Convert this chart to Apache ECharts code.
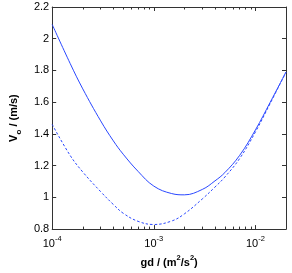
<!DOCTYPE html>
<html><head><meta charset="utf-8">
<script src="https://cdn.jsdelivr.net/npm/echarts@6/dist/echarts.min.js"></script>
<style>html,body{margin:0;padding:0;background:#fff}#c{width:292px;height:273px}</style>
</head><body><div id="c"></div>
<script>
// gd values (m^2/s^2)
const gd = [1e-4, 1.5e-4, 2e-4, 3e-4, 4e-4, 5e-4, 7e-4, 1e-3, 1.5e-3, 2e-3, 3e-3, 4e-3, 5e-3, 7e-3, 1e-2, 1.4e-2, 2e-2];
// Vo solid curve (m/s)
const voSolid = [2.09, 1.845, 1.684, 1.482, 1.356, 1.272, 1.164, 1.071, 1.024, 1.016, 1.050, 1.104, 1.156, 1.265, 1.425, 1.60, 1.79];
// Vo dashed curve (m/s)
const voDashed = [1.46, 1.265, 1.160, 1.036, 0.955, 0.900, 0.849, 0.829, 0.851, 0.896, 0.99, 1.065, 1.128, 1.245, 1.412, 1.593, 1.79];
// axis ranges / ticks
const xMin = 1e-4, xMax = 2e-2;
const yMin = 0.8, yMax = 2.2, yStep = 0.2;
const xMinorTicks = [2e-4,3e-4,4e-4,5e-4,6e-4,7e-4,8e-4,9e-4,2e-3,3e-3,4e-3,5e-3,6e-3,7e-3,8e-3,9e-3];

const axisColor = '#333';
const lineColor = '#2a48ff';
const font = 'Liberation Sans, Arial, Helvetica, sans-serif';

const chart = echarts.init(document.getElementById('c'), null, {renderer: 'canvas'});
const minorLog = xMinorTicks.map(v => Math.log10(v));

function majorX(pos, labels) {
  return {
    type: 'log', position: pos, min: xMin, max: xMax, logBase: 10,
    axisLine: {show: true, lineStyle: {color: axisColor, width: 1}},
    axisTick: {show: true, inside: true, length: 4, lineStyle: {color: axisColor}},
    splitLine: {show: false},
    axisLabel: labels ? {
      show: true, margin: 6, color: '#000', fontFamily: font,
      formatter: function (v) {
        const l = Math.log10(v), e = Math.round(l);
        if (Math.abs(l - e) > 1e-6) return '';
        return '{b|10}{s|' + e + '}';
      },
      rich: {
        b: {fontSize: 11, fontFamily: font, color: '#000', lineHeight: 14, verticalAlign: 'bottom'},
        s: {fontSize: 7.5, fontFamily: font, color: '#000', verticalAlign: 'top', lineHeight: 14, padding: [0,0,6,0]}
      }
    } : {show: false},
    name: labels ? '{n|gd / (m}{s|2}{n|/s}{s|2}{n|)}' : '',
    nameLocation: 'middle', nameGap: 20,
    nameTextStyle: {
      rich: {
        n: {fontSize: 11, fontWeight: 'bold', fontFamily: font, color: '#000', lineHeight: 14, verticalAlign: 'bottom'},
        s: {fontSize: 7.5, fontWeight: 'bold', fontFamily: font, color: '#000', lineHeight: 14, verticalAlign: 'top', padding: [0,0,6,0]}
      }
    }
  };
}
function minorX(pos) {
  return {
    type: 'value', position: pos, min: Math.log10(xMin), max: Math.log10(xMax),
    axisLine: {show: false},
    axisTick: {show: true, inside: true, length: 2.5, customValues: minorLog, lineStyle: {color: axisColor}},
    axisLabel: {show: false}, splitLine: {show: false}
  };
}
function yAx(pos, labels) {
  return {
    type: 'value', position: pos, min: yMin, max: yMax, interval: yStep,
    axisLine: {show: true, lineStyle: {color: axisColor, width: 1}},
    axisTick: {show: true, inside: true, length: 4, lineStyle: {color: axisColor}},
    splitLine: {show: false},
    axisLabel: labels ? {show: true, margin: 3, fontSize: 11, fontFamily: font, color: '#000'} : {show: false},
    name: labels ? '{n|V}{sub|o}{n| / (m/s)}' : '',
    nameLocation: 'middle', nameGap: 24, nameRotate: 90,
    nameTextStyle: {
      rich: {
        n: {fontSize: 11, fontWeight: 'bold', fontFamily: font, color: '#000', lineHeight: 15, verticalAlign: 'top'},
        sub: {fontSize: 8, fontWeight: 'bold', fontFamily: font, color: '#000', lineHeight: 15, verticalAlign: 'bottom'}
      }
    }
  };
}

chart.setOption({
  animation: false,
  backgroundColor: '#fff',
  grid: {left: 40, top: 7, right: 6, bottom: 41, containLabel: false},
  xAxis: [majorX('bottom', true), minorX('bottom'), majorX('top', false), minorX('top')],
  yAxis: [yAx('left', true), yAx('right', false)],
  series: [
    {type: 'line', xAxisIndex: 0, yAxisIndex: 0, showSymbol: false, symbol: 'none', smooth: 0.4,
     data: gd.map((g, i) => [g, voSolid[i]]), lineStyle: {color: lineColor, width: 1}},
    {type: 'line', xAxisIndex: 0, yAxisIndex: 0, showSymbol: false, symbol: 'none', smooth: 0.4,
     data: gd.map((g, i) => [g, voDashed[i]]), lineStyle: {color: lineColor, width: 1, type: [2.5, 2]}}
  ]
});
</script>
</body></html>
